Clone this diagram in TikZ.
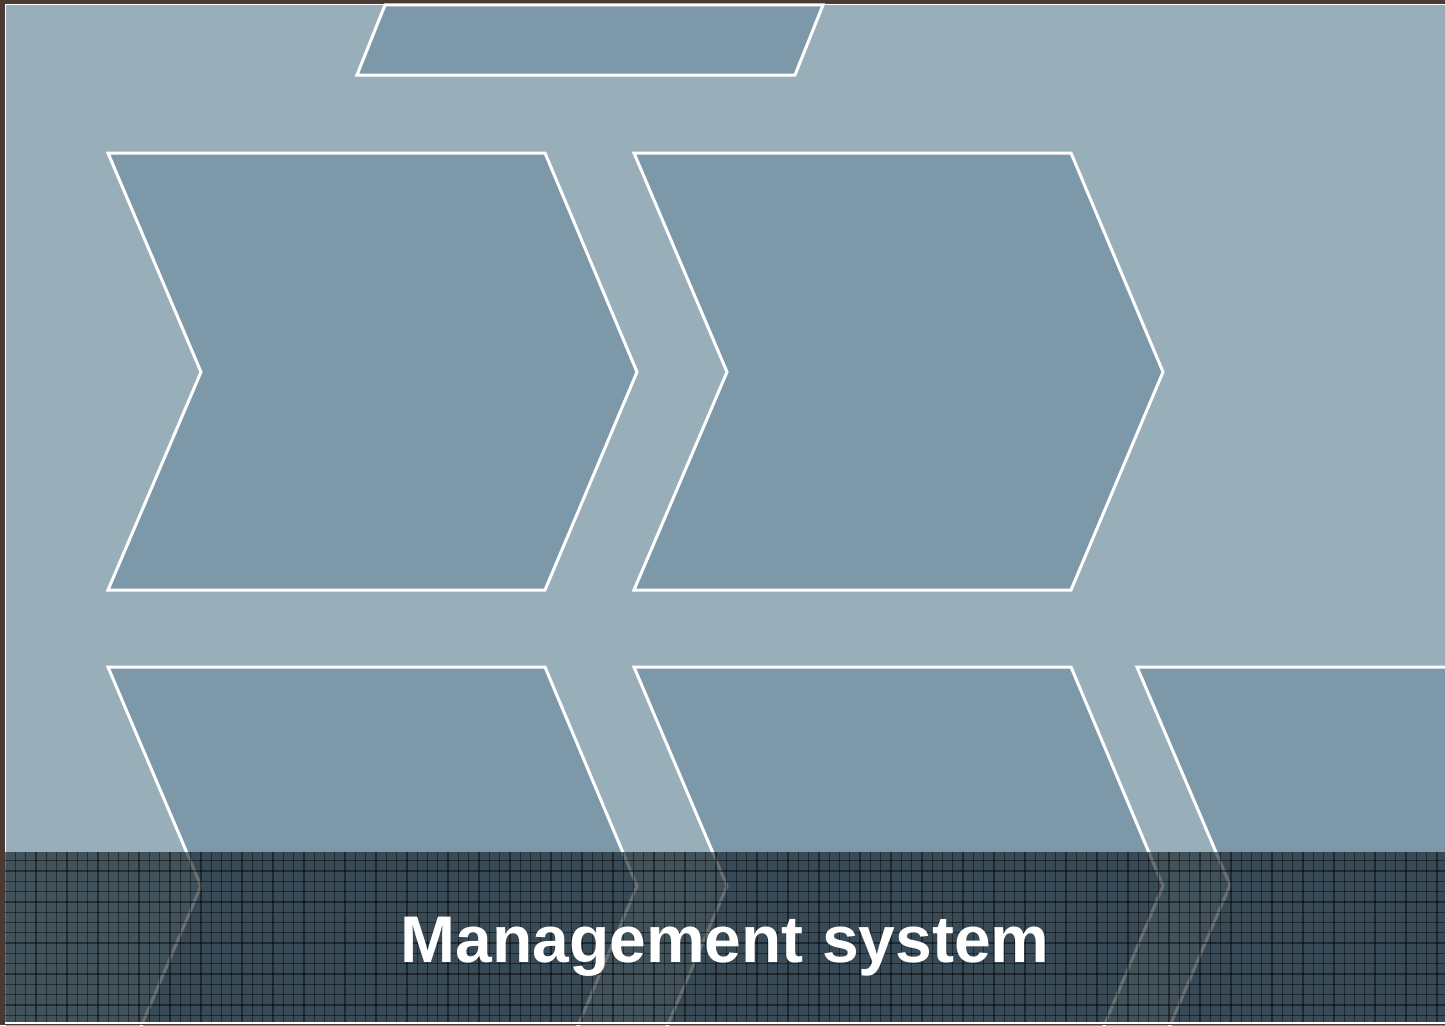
\documentclass[tikz,border=0pt]{standalone}
\usepackage{fontspec}
\setmainfont{Liberation Sans}
\usepackage{xcolor}
\usepackage{tikz}
\usetikzlibrary{positioning}
\definecolor{slate}{HTML}{98AFBA}
\definecolor{stagefill}{HTML}{7D99A9}
\definecolor{bandfill}{HTML}{0E1A22}
\definecolor{rim}{HTML}{4A3A33}
\tikzset{
  stage/.style={fill=stagefill, draw=white, line width=3pt, line join=miter},
  frame/.style={fill=slate, draw=white, line width=1.6pt},
  band/.style={fill=bandfill, fill opacity=0.62},
  mesh/.style={draw=black, draw opacity=0.45, line width=1.3pt},
  title/.style={font=\fontsize{66}{70}\selectfont\bfseries, text=white, inner sep=0pt, anchor=base}
}
% chevron with its top left corner at (#1,#2)
\newcommand{\chevronat}[2]{%
  \draw[stage] (#1,#2) -- ++(437,0) -- ++(92,219) -- ++(-92,218) -- ++(-437,0) -- ++(93,-218) -- cycle;
}

\begin{document}
\begin{tikzpicture}[x=1pt,y=-1pt]
\useasboundingbox (0,0) rectangle (1445,1025);
\clip (0,0) rectangle (1445,1025);
\fill[rim] (0,0) rectangle (1445,1025);
\draw[frame] (5.5,4.5) rectangle (1460,1040);

% top tab
\draw[stage] (385,5) -- (823,5) -- (795,75) -- (357,75) -- cycle;

% first row
\chevronat{108}{153}
\chevronat{634}{153}

% second row
\chevronat{108}{667}
\chevronat{634}{667}
\draw[stage] (1137,667) -- (1470,667) -- (1470,1110) -- (1137,1103) -- (1230,885) -- cycle;

% bottom band
\fill[band] (5,852) rectangle (1445,1022);
\begin{scope}
  \clip (5,852) rectangle (1445,1022);
  \foreach \gx in {0,...,140} {
    \draw[mesh] ({15.5+10.3*\gx},852) -- ++(0,170);
  }
  \foreach \gy in {0,...,16} {
    \draw[mesh] (5,{860.7+10.3*\gy}) -- ++(1440,0);
  }
\end{scope}
\draw[white, line width=1.6pt] (5,1023) -- (1445,1023);
\fill[rim] (0,1024) rectangle (1445,1025);

\node[title] (heading) at (725,962) {Management system};
\end{tikzpicture}
\end{document}
